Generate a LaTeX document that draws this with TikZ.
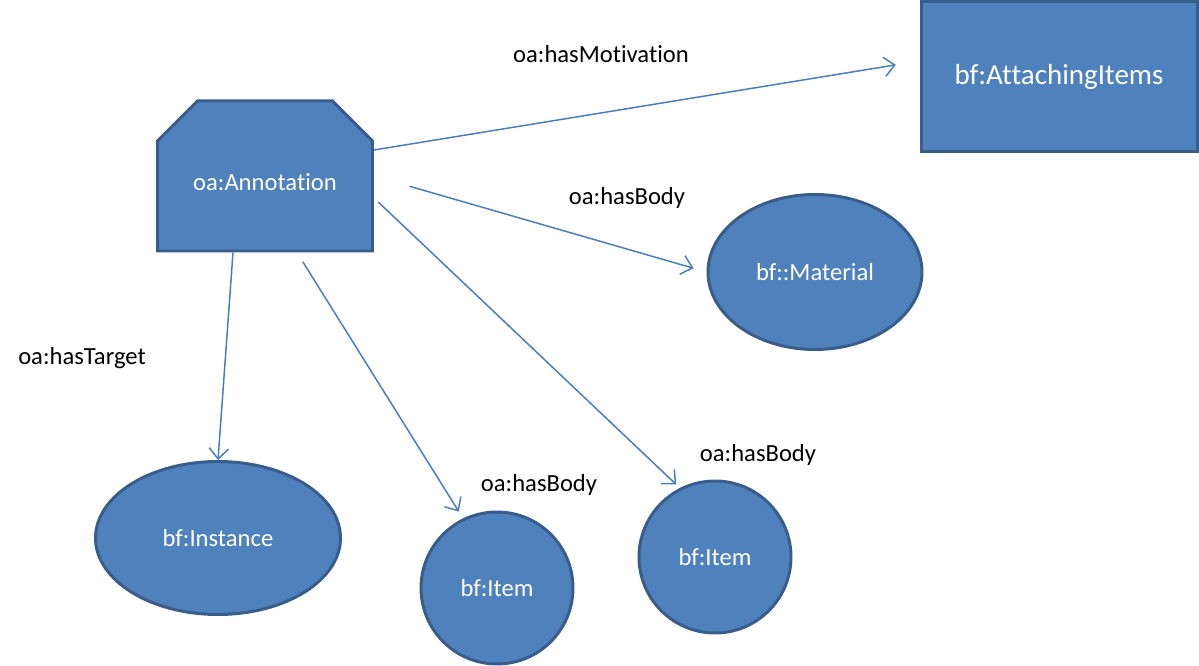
\documentclass[tikz,border=0pt]{standalone}
\usepackage{fontspec}
\setmainfont[Ligatures=NoCommon]{Carlito}
\usetikzlibrary{shapes.geometric,shapes.misc,arrows.meta}

\definecolor{boxfill}{HTML}{4F81BD}
\definecolor{boxline}{HTML}{385D8A}
\definecolor{linkcol}{HTML}{4A7EBB}

\tikzset{
    thing/.style={draw=boxline, fill=boxfill, line width=1.7pt, text=white, font=\fontsize{14}{16}\selectfont},
    link/.style={linkcol, line width=0.85pt, -{Straight Barb[length=6pt,width=11pt]}},
    lbl/.style={font=\fontsize{14}{16}\selectfont}
}

\begin{document}
\begin{tikzpicture}

\useasboundingbox (0,0) rectangle (23.98,-13.32);

\node[thing, chamfered rectangle, chamfered rectangle corners={north west,north east},
      chamfered rectangle xsep=0.5cm, chamfered rectangle ysep=0.5cm,
      minimum width=4.3cm, minimum height=3cm, inner sep=0pt,
      text height=0.6cm, text depth=0cm] (ann) at (5.3,-3.52) {oa:Annotation};
\node[thing, rectangle, minimum width=5.52cm, minimum height=3cm,
      font=\fontsize{16.5}{18}\selectfont] (attach) at (21.18,-1.54) {bf:AttachingItems};
\node[thing, ellipse, minimum width=4.28cm, minimum height=3.1cm] (material) at (16.3,-5.44) {bf::Material};
\node[thing, ellipse, minimum width=4.9cm, minimum height=3.06cm] (instance) at (4.36,-10.76) {bf:Instance};
\node[thing, circle, minimum size=3.04cm] (item1) at (9.94,-11.76) {bf:Item};
\node[thing, circle, minimum size=3.04cm] (item2) at (14.3,-11.14) {bf:Item};

\draw[link, shorten >=0.48cm] ([yshift=0.52cm]ann.east) -- ([yshift=0.32cm]attach.west);
\draw[link, shorten <=0.74cm, shorten >=0.27cm] (ann.east) -- (material.west);
\draw[link] ([xshift=-0.64cm]ann.south) -- (instance.north);
\draw[link, shorten <=0.22cm, shorten >=0.16cm] ([xshift=0.64cm]ann.south) -- (item1.116);
\draw[link, shorten <=0.12cm, shorten >=0.1cm] ([yshift=-0.44cm]ann.east) -- (item2.117);

\node[lbl] (motiv) at (12.02,-1.08) {oa:hasMotivation};
\node[lbl] (body1) at (12.54,-3.96) {oa:hasBody};
\node[lbl] (target) at (1.64,-7.16) {oa:hasTarget};
\node[lbl] (body2) at (10.78,-9.7) {oa:hasBody};
\node[lbl] (body3) at (15.16,-9.1) {oa:hasBody};

\end{tikzpicture}
\end{document}
